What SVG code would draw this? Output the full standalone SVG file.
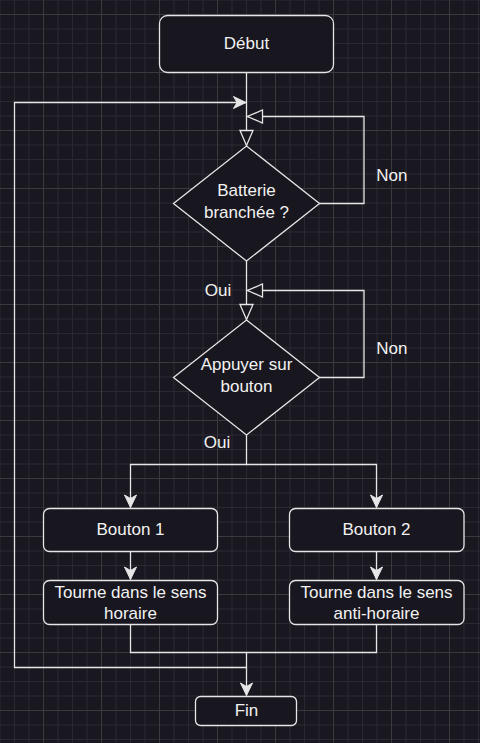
<svg xmlns="http://www.w3.org/2000/svg" width="480" height="743" viewBox="0 0 480 743">
  <style>
    .node { fill: #18161e; stroke: #e6e6e6; stroke-width: 1.3; }
    .lbl { font-family: "Liberation Sans", Arial, sans-serif; font-size: 17px; fill: #f2f2f2; text-anchor: middle; }
    .edge { fill: none; stroke: #e6e6e6; stroke-width: 1.3; }
  </style>
  <defs>
    <pattern id="grid" patternUnits="userSpaceOnUse" x="43" y="14" width="58" height="58">
      <rect width="58" height="58" fill="#19171f"/>
      <rect x="14.5" y="0" width="1" height="58" fill="#2a2830"/>
      <rect x="29" y="0" width="1" height="58" fill="#2a2830"/>
      <rect x="43.5" y="0" width="1" height="58" fill="#2a2830"/>
      <rect x="0" y="14.5" width="58" height="1" fill="#2a2830"/>
      <rect x="0" y="29" width="58" height="1" fill="#2a2830"/>
      <rect x="0" y="43.5" width="58" height="1" fill="#2a2830"/>
      <rect x="0" y="0" width="1" height="58" fill="#3b3940"/>
      <rect x="0" y="0" width="58" height="1" fill="#3b3940"/>
    </pattern>
    <marker id="arrow" markerUnits="userSpaceOnUse" viewBox="-14 -7 15 14" refX="0" refY="0" markerWidth="15" markerHeight="14" orient="auto">
      <path d="M0,0 L-12.5,-6 L-9,0 L-12.5,6 Z" fill="#e6e6e6" stroke="#e6e6e6" stroke-width="1"/>
    </marker>
    <marker id="hollow" markerUnits="userSpaceOnUse" viewBox="-17 -9 18 18" refX="0" refY="0" markerWidth="18" markerHeight="18" orient="auto">
      <path d="M0,0 L-15,-6.5 L-15,6.5 Z" fill="#19171f" stroke="#e6e6e6" stroke-width="1.3"/>
    </marker>
  </defs>
  <rect width="480" height="743" fill="url(#grid)"/>

  <g id="connectors">
    <path class="edge" d="M246.5,72.5 V145.5" marker-end="url(#hollow)"/>
    <path class="edge" d="M319,203.5 H364 V116.5 H247.5" marker-end="url(#hollow)"/>
    <path class="edge" d="M246.5,261 V319.5" marker-end="url(#hollow)"/>
    <path class="edge" d="M319,377.5 H364 V290.5 H247.5" marker-end="url(#hollow)"/>
    <path class="edge" d="M246.5,435 V464.5 H130.5 V507.5" marker-end="url(#arrow)"/>
    <path class="edge" d="M246.5,464.5 H376.5 V507.5" marker-end="url(#arrow)"/>
    <path class="edge" d="M130.5,551.5 V579.5" marker-end="url(#arrow)"/>
    <path class="edge" d="M376.5,551.5 V579.5" marker-end="url(#arrow)"/>
    <path class="edge" d="M130.5,624.5 V652.5 H376.5 V624.5"/>
    <path class="edge" d="M246.5,652.5 V695.5" marker-end="url(#arrow)"/>
    <path class="edge" d="M246.5,667.5 H14.5 V102.5 H246" marker-end="url(#arrow)"/>
    <text class="lbl" x="391.8" y="180.7">Non</text>
    <text class="lbl" x="391.8" y="354.3">Non</text>
    <text class="lbl" x="218" y="295.7">Oui</text>
    <text class="lbl" x="217" y="447.7">Oui</text>
  </g>

  <g id="debut">
    <rect class="node" x="159.5" y="15.5" width="174" height="57" rx="8"/>
    <text class="lbl" x="246.5" y="49.3">Début</text>
  </g>
  <g id="batterie">
    <polygon class="node" points="246.5,146 319.5,203.5 246.5,261 173.5,203.5"/>
    <text class="lbl" x="246.5" y="196">Batterie</text>
    <text class="lbl" x="246.5" y="218.3">branchée ?</text>
  </g>
  <g id="appuyer">
    <polygon class="node" points="246.5,320 319.5,377.5 246.5,435 173.5,377.5"/>
    <text class="lbl" x="246.5" y="370">Appuyer sur</text>
    <text class="lbl" x="246.5" y="392.3">bouton</text>
  </g>
  <g id="bouton1">
    <rect class="node" x="43.5" y="508.5" width="174" height="43" rx="6"/>
    <text class="lbl" x="130.5" y="535.3">Bouton 1</text>
  </g>
  <g id="bouton2">
    <rect class="node" x="289.5" y="508.5" width="174.5" height="43" rx="6"/>
    <text class="lbl" x="376.5" y="535.3">Bouton 2</text>
  </g>
  <g id="horaire">
    <rect class="node" x="43.5" y="580.5" width="174" height="44" rx="6"/>
    <text class="lbl" x="130.5" y="598.3">Tourne dans le sens</text>
    <text class="lbl" x="130.5" y="619">horaire</text>
  </g>
  <g id="antihoraire">
    <rect class="node" x="289.5" y="580.5" width="174.5" height="44" rx="6"/>
    <text class="lbl" x="376.5" y="598.3">Tourne dans le sens</text>
    <text class="lbl" x="376.5" y="619">anti-horaire</text>
  </g>
  <g id="fin">
    <rect class="node" x="195.5" y="696.5" width="101" height="29" rx="5"/>
    <text class="lbl" x="246.5" y="716">Fin</text>
  </g>
</svg>
